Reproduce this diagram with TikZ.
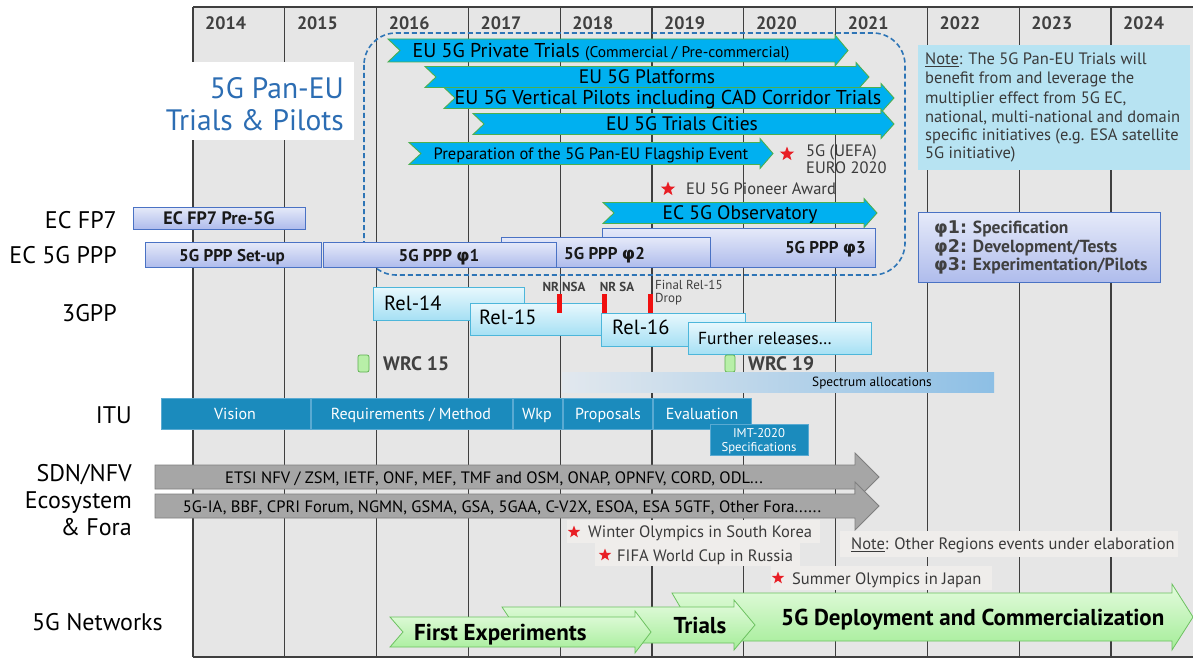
\documentclass[tikz,border=0pt]{standalone}
\usepackage{fontspec}
\setmainfont{PT Sans}
\newfontfamily\grk{DejaVu Sans}
\usetikzlibrary{shapes.geometric}
\definecolor{gridbg}{HTML}{E6E6E6}
\definecolor{gridln}{HTML}{3F3F3F}
\definecolor{yeartx}{HTML}{404040}
\definecolor{titleblue}{HTML}{2C6DB3}
\definecolor{dashblue}{HTML}{2E75B6}
\definecolor{cyanA}{HTML}{00B0F0}
\definecolor{cyanEdge}{HTML}{4CAF50}
\definecolor{notebg}{HTML}{B7E3F2}
\definecolor{lavTop}{HTML}{E6EAF9}
\definecolor{lavBot}{HTML}{AFBCEC}
\definecolor{lavEdge}{HTML}{4A72C4}
\definecolor{relTop}{HTML}{E8F8FD}
\definecolor{relBot}{HTML}{A6E0F4}
\definecolor{relEdge}{HTML}{4DB6DA}
\definecolor{itu}{HTML}{1B8BBD}
\definecolor{ituEdge}{HTML}{5AAAD2}
\definecolor{grayA}{HTML}{A6A6A6}
\definecolor{grayEdge}{HTML}{7F7F7F}
\definecolor{grnTop}{HTML}{E4FBDE}
\definecolor{grnBot}{HTML}{A4ED98}
\definecolor{grnEdge}{HTML}{6CC160}
\definecolor{evbg}{HTML}{EFEDEB}
\definecolor{starred}{HTML}{E81E25}
\definecolor{specR}{HTML}{8DBFE5}
\definecolor{specL}{HTML}{E2E8EE}
\definecolor{txgray}{HTML}{3A3A3A}
\definecolor{wrcFill}{HTML}{B8EFA8}
\definecolor{wrcEdge}{HTML}{5DB04F}
\definecolor{redmk}{HTML}{F01010}
\newcommand\fsz[1]{\fontsize{#1}{#1}\selectfont}
% style, x0, tip, yc, body half, head half, head length, notch depth
\newcommand\shapearrow[8]{%
  \path[#1] (#2,#4-#5) -- (#3-#7,#4-#5) -- (#3-#7,#4-#6) -- (#3,#4) -- (#3-#7,#4+#6) -- (#3-#7,#4+#5) -- (#2,#4+#5) -- (#2+#8,#4) -- cycle;}
\tikzset{
  yearlbl/.style={font=\bfseries\fsz{18}, text=yeartx, inner sep=0, anchor=base west},
  gridline/.style={draw=gridln, line width=1.3pt},
  titletx/.style={font=\fsz{29.5}, text=titleblue, inner sep=0, anchor=base east},
  dashbox/.style={draw=dashblue, line width=1.6pt, dash pattern=on 5pt off 3pt, rounded corners=32pt},
  cyanarr/.style={fill=cyanA, draw=cyanEdge, line width=0.9pt},
  cyantx/.style={font=\fsz{19.5}, inner sep=0, anchor=base},
  notetx/.style={font=\fsz{16.5}, text=txgray, inner sep=0, anchor=base west},
  lavbox/.style={top color=lavTop, bottom color=lavBot, draw=lavEdge, line width=0.8pt},
  ppptx/.style={font=\bfseries\fsz{17}, text=black!90, inner sep=0},
  phasetx/.style={font=\bfseries\fsz{17.5}, text=yeartx, inner sep=0, anchor=base west},
  relbox/.style={top color=relTop, bottom color=relBot, draw=relEdge, line width=0.8pt},
  reltx/.style={font=\fsz{20.5}, inner sep=0, anchor=base west},
  redmark/.style={fill=redmk, rounded corners=1pt},
  smalltx/.style={font=\fsz{13}, text=yeartx, inner sep=0},
  wrcmark/.style={fill=wrcFill, draw=wrcEdge, line width=0.7pt, rounded corners=2pt},
  wrctx/.style={font=\bfseries\fsz{19.5}, text=yeartx, inner sep=0, anchor=base west},
  itubox/.style={fill=itu, draw=ituEdge, line width=0.6pt},
  itutx/.style={font=\fsz{16}, text=white, inner sep=0, anchor=base},
  grayarr/.style={fill=grayA, draw=grayEdge, line width=0.8pt},
  graytx/.style={font=\fsz{16.5}, inner sep=0, anchor=base},
  evbox/.style={fill=evbg},
  evtx/.style={font=\fsz{16.5}, text=txgray, inner sep=0, anchor=base west},
  redstar/.style={star, star points=5, star point ratio=2.4, fill=starred, inner sep=0, minimum size=15pt},
  grnarr/.style={top color=grnTop, bottom color=grnBot, draw=grnEdge, line width=0.8pt},
  grntx/.style={font=\bfseries\fsz{23}, inner sep=0, anchor=base west},
  lbl/.style={font=\fsz{24}, inner sep=0, anchor=base east}
}
\begin{document}
\begin{tikzpicture}[x=1pt,y=-1pt]
\useasboundingbox (0,0) rectangle (1193,658);
\fill[white] (0,0) rectangle (1193,658);
% grid
\fill[gridbg] (193,7) rectangle (1193,657);
\foreach \gx in {193,284.8,376.6,468.4,560.2,652,743.8,835.6,927.4,1019.2,1111}
  \draw[gridline] (\gx,7) -- (\gx,657);
\draw[gridline] (193,7) -- (1193,7);
\draw[gridline] (193,657) -- (1193,657);
\foreach \yx/\yr in {193/2014,284.8/2015,376.6/2016,468.4/2017,560.2/2018,652/2019,743.8/2020,835.6/2021,927.4/2022,1019.2/2023,1111/2024}
  \node[yearlbl] (y\yr) at (\yx+12,29.3) {\yr};
% title
\fill[white] (185,62) rectangle (354,140);
\node[titletx] (title1) at (344,98.5) {5G Pan-EU};
\node[titletx] (title2) at (344,130.5) {Trials \& Pilots};
% dashed frame
\draw[dashbox] (364,33) rectangle (905,275);
% cyan arrows
\shapearrow{cyanarr}{388}{848}{50.5}{11.5}{15.5}{13}{12}
\shapearrow{cyanarr}{425}{869}{77}{10.5}{14.5}{13}{11}
\shapearrow{cyanarr}{444}{894}{98}{10.5}{14.5}{13}{11}
\shapearrow{cyanarr}{473}{894}{124}{10.5}{14.5}{13}{11}
\shapearrow{cyanarr}{409}{773}{153.5}{11}{15}{13}{12}
\shapearrow{cyanarr}{603}{877}{213}{10.5}{14.5}{13}{11}
\node[cyantx, font=\fsz{20}] (a1) at (601,57.5) {EU 5G Private Trials {\fsz{15.5}(Commercial / Pre-commercial)}};
\node[cyantx] (a2) at (647,83.8) {EU 5G Platforms};
\node[cyantx, font=\fsz{20}] (a3) at (668,105) {EU 5G Vertical Pilots including CAD Corridor Trials};
\node[cyantx] (a4) at (682,130.8) {EU 5G Trials Cities};
\node[cyantx, font=\fsz{16.5}] (a5) at (591,159.3) {Preparation of the 5G Pan-EU Flagship Event};
\node[cyantx] (a6) at (740,219.8) {EC 5G Observatory};
% stars near frame
\node[redstar] (s1) at (787,154) {};
\node[notetx] (uefa1) at (806,156.8) {5G (UEFA)};
\node[notetx] (uefa2) at (806,173.8) {EURO 2020};
\node[redstar] (s2) at (668,189) {};
\node[notetx] (pion) at (686,194.8) {EU 5G Pioneer Award};
% note box
\fill[notebg] (918,45) rectangle (1190,170);
\node[notetx] (n1) at (925,64.8) {\underline{Note}: The 5G Pan-EU Trials will};
\node[notetx] (n2) at (925,83.8) {benefit from and leverage the};
\node[notetx] (n3) at (925,103.3) {multiplier effect from 5G EC,};
\node[notetx] (n4) at (925,122.3) {national, multi-national and domain};
\node[notetx] (n5) at (925,140.8) {specific initiatives (e.g. ESA satellite};
\node[notetx] (n6) at (925,158.8) {5G initiative)};
% EC FP7 / PPP boxes
\path[lavbox] (133,207) rectangle (305,229);
\node[ppptx, font=\bfseries\fsz{18}, anchor=base] (fp7) at (219,224.3) {EC FP7 Pre-5G};
\path[lavbox] (602,228) rectangle (875,267);
\node[ppptx, anchor=base east] (ph3) at (866,253) {5G PPP {\grk φ}3};
\path[lavbox] (501,237) rectangle (710,267);
\node[ppptx, anchor=base west] (ph2) at (564,259) {5G PPP {\grk φ}2};
\path[lavbox] (323,242) rectangle (556,267);
\node[ppptx, anchor=base] (ph1) at (439,261) {5G PPP {\grk φ}1};
\path[lavbox] (145,242) rectangle (321,267);
\node[ppptx, anchor=base] (setup) at (232,261) {5G PPP Set-up};
% phase legend
\path[lavbox] (918,212) rectangle (1160,282);
\node[phasetx] (p1) at (934,233) {{\grk φ1:} Specification};
\node[phasetx] (p2) at (934,252) {{\grk φ2:} Development/Tests};
\node[phasetx] (p3) at (934,270) {{\grk φ3:} Experimentation/Pilots};
% 3GPP
\path[relbox] (373,287) rectangle (524,320);
\node[reltx] (r14) at (384,310) {Rel-14};
\path[relbox] (470,303) rectangle (603,335);
\node[reltx] (r15) at (479,324) {Rel-15};
\path[relbox] (601,313) rectangle (745,346);
\node[reltx] (r16) at (612,334) {Rel-16};
\path[relbox] (688,322) rectangle (871,354);
\node[reltx, font=\fsz{17.4}] (rfu) at (698,344) {Further releases\dots};
\fill[redmk] (556.5,294) rectangle (561.5,313);
\fill[redmk] (601.5,294) rectangle (606.5,313);
\fill[redmk] (647.5,294) rectangle (652.5,313);
\node[smalltx, font=\bfseries\fsz{13}, anchor=base] (nsa) at (564,291.5) {NR NSA};
\node[smalltx, font=\bfseries\fsz{13}, anchor=base] (nsa2) at (617,291.5) {NR SA};
\node[smalltx, anchor=base west] (fin1) at (655,289.5) {Final Rel-15};
\node[smalltx, anchor=base west] (fin2) at (655,302.5) {Drop};
% WRC
\path[wrcmark] (358,355) rectangle (369,372);
\node[wrctx] (w15) at (383,370.8) {WRC 15};
\path[wrcmark] (725,355) rectangle (735,372);
\node[wrctx] (w19) at (748,370.8) {WRC 19};
% spectrum
\shade[left color=specL, right color=specR] (562,372) rectangle (994,392);
\node[smalltx, font=\fsz{13.3}, text=black, anchor=base] (spec) at (872,386.7) {Spectrum allocations};
% ITU
\path[itubox] (161,398) rectangle (310,429);
\path[itubox] (311,398) rectangle (512,429);
\path[itubox] (513,398) rectangle (562,429);
\path[itubox] (563,398) rectangle (652,429);
\path[itubox] (653,398) rectangle (751,429);
\node[itutx] (iv) at (235,419.1) {Vision};
\node[itutx] (ir) at (411,419.1) {Requirements / Method};
\node[itutx] (iw) at (537,419.1) {Wkp};
\node[itutx] (ip) at (608,419.1) {Proposals};
\node[itutx] (ie) at (702,419.1) {Evaluation};
\path[itubox] (710,424) rectangle (808,455);
\node[itutx, font=\fsz{12.7}] (imt1) at (759,437.4) {IMT-2020};
\node[itutx, font=\fsz{12.7}] (imt2) at (759,451.4) {Specifications};
% gray arrows
\shapearrow{grayarr}{155}{879}{477}{12}{24}{24}{0}
\shapearrow{grayarr}{155}{879}{506}{12}{24}{24}{0}
\node[graytx] (g1) at (494,483.8) {ETSI NFV / ZSM, IETF, ONF, MEF, TMF and OSM, ONAP, OPNFV, CORD, ODL...};
\node[graytx] (g2) at (502,512.8) {5G-IA, BBF, CPRI Forum, NGMN, GSMA, GSA, 5GAA, C-V2X, ESOA, ESA 5GTF, Other Fora......};
% events
\fill[evbg] (567,520) rectangle (820,543);
\node[redstar, minimum size=13pt] (ev1s) at (574,532) {};
\node[evtx] (ev1) at (588,537.8) {Winter Olympics in South Korea};
\fill[evbg] (595,543) rectangle (800,566);
\node[redstar, minimum size=13pt] (ev2s) at (605,555) {};
\node[evtx] (ev2) at (617,561.8) {FIFA World Cup in Russia};
\fill[evbg] (840,531) rectangle (1178,557);
\node[evtx] (ev3) at (851,549.8) {\underline{Note}: Other Regions events under elaboration};
\fill[evbg] (771,566) rectangle (992,590);
\node[redstar, minimum size=13pt] (ev4s) at (778,578) {};
\node[evtx] (ev4) at (792,584.8) {Summer Olympics in Japan};
% green arrows
\shapearrow{grnarr}{672}{1193}{617}{24}{33}{21}{14}
\shapearrow{grnarr}{502}{755}{625}{18}{25}{21}{12}
\shapearrow{grnarr}{390}{651}{632}{15}{21}{16}{13}
\node[grntx] (gdep) at (781,625) {5G Deployment and Commercialization};
\node[grntx, anchor=base] (gtri) at (700,633) {Trials};
\node[grntx] (gfe) at (414,640) {First Experiments};
% left labels
\node[lbl] (lfp7) at (117,228.4) {EC FP7};
\node[lbl] (lppp) at (117,263.4) {EC 5G PPP};
\node[lbl] (l3gpp) at (117,321.4) {3GPP};
\node[lbl] (litu) at (132,423.4) {ITU};
\node[lbl] (lsdn) at (132,481.4) {SDN/NFV};
\node[lbl] (leco) at (132,508.4) {Ecosystem};
\node[lbl] (lfora) at (132,535.4) {\& Fora};
\node[lbl] (lnet) at (163,630.4) {5G Networks};
\end{tikzpicture}
\end{document}
